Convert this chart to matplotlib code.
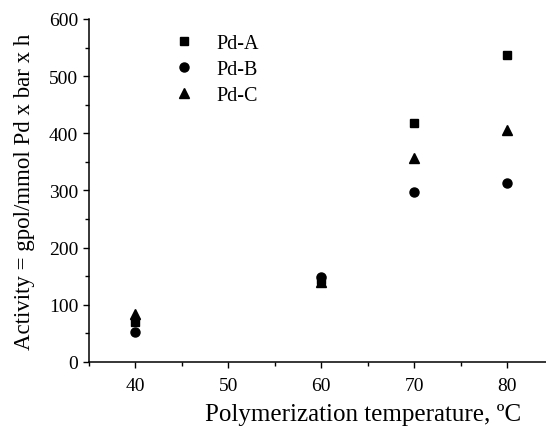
import matplotlib
matplotlib.use("Agg")
import matplotlib.pyplot as plt
from matplotlib.ticker import MultipleLocator

temps = [40, 60, 70, 80]
pd_a = [70, 143, 418, 537]
pd_b = [53, 148, 297, 313]
pd_c = [84, 140, 357, 406]
series_names = ["Pd-A", "Pd-B", "Pd-C"]

plt.rcParams['font.family'] = ['Liberation Serif', 'DejaVu Serif']

fig = plt.figure(figsize=(5.46, 4.27), dpi=100)
ax = fig.add_axes([0.1626, 0.1499, 0.8374, 0.8033])

ax.plot(temps, pd_a, linestyle='none', marker='s', ms=5.5, color='black', label=series_names[0])
ax.plot(temps, pd_b, linestyle='none', marker='o', ms=6.5, color='black', label=series_names[1])
ax.plot(temps, pd_c, linestyle='none', marker='^', ms=7.5, color='black', label=series_names[2])

ax.set_xlim(35, 84.2)
ax.set_ylim(0, 600)
ax.xaxis.set_major_locator(MultipleLocator(10))
ax.xaxis.set_minor_locator(MultipleLocator(5))
ax.yaxis.set_major_locator(MultipleLocator(100))
ax.yaxis.set_minor_locator(MultipleLocator(50))
ax.tick_params(which='both', direction='out', labelsize=14, width=1)
ax.tick_params(which='major', length=4.5, pad=3)
ax.tick_params(which='minor', length=3, pad=3)
ax.tick_params(axis='x', which='both', pad=6)
ax.spines['top'].set_visible(False)
ax.spines['right'].set_visible(False)
for s in ('left', 'bottom'):
    ax.spines[s].set_linewidth(1.1)

ax.set_xlabel("Polymerization temperature, ºC", fontsize=18)
ax.xaxis.set_label_coords(0.60, -0.12)
ax.set_ylabel("Activity = gpol/mmol Pd x bar x h", fontsize=16.5, labelpad=10)

ax.legend(loc='upper left', bbox_to_anchor=(0.286, 0.96), bbox_transform=fig.transFigure,
          frameon=False, fontsize=14.5, handlelength=1.0, handletextpad=1.1,
          labelspacing=0.33, numpoints=1)

fig.savefig("out.png", dpi=100)
